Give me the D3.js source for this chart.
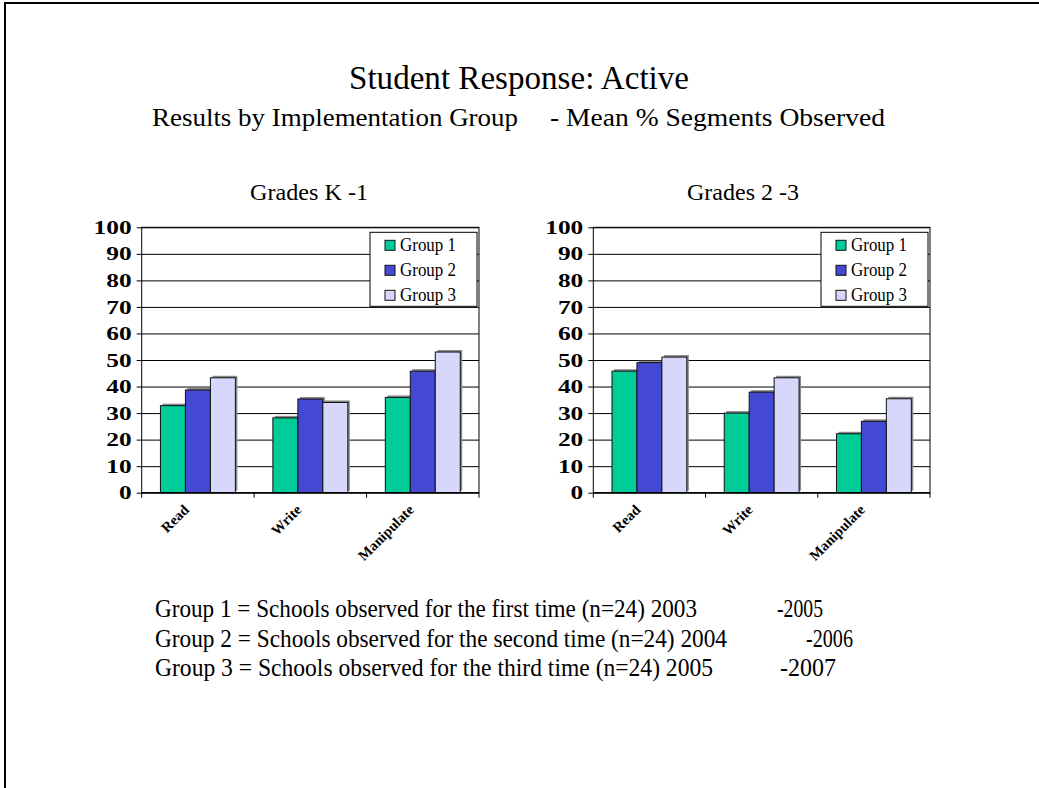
<!DOCTYPE html>
<html>
<head>
<meta charset="utf-8">
<script src="https://cdn.jsdelivr.net/npm/d3@7"></script>
<style>
  html, body { margin: 0; padding: 0; background: #fff; }
  svg { display: block; }
  text { font-family: "Liberation Serif", "Times New Roman", serif; fill: #000; }
</style>
</head>
<body>
<svg id="chart" width="1039" height="788"></svg>
<script>
// Categories, groups and values (mean % of segments observed)
const categories = ["Read", "Write", "Manipulate"];
const groupNames = ["Group 1", "Group 2", "Group 3"];
const groupColors = ["#00CC99", "#4349D3", "#D6D7FA"];

const gradesK1Group1 = [32.8, 28.2, 35.9];
const gradesK1Group2 = [38.7, 35.3, 45.8];
const gradesK1Group3 = [43.3, 34.0, 53.0];

const grades23Group1 = [45.8, 30.0, 22.2];
const grades23Group2 = [49.0, 37.9, 26.9];
const grades23Group3 = [51.1, 43.3, 35.4];

const yTicks = [0, 10, 20, 30, 40, 50, 60, 70, 80, 90, 100];

const titleText = "Student Response: Active";
const subtitleLeft = "Results by Implementation Group";
const subtitleRight = "- Mean % Segments Observed";
const panelTitles = ["Grades K -1", "Grades 2 -3"];
const noteMain = [
  "Group 1 = Schools observed for the first time (n=24) 2003",
  "Group 2 = Schools observed for the second time (n=24) 2004",
  "Group 3 = Schools observed for the third time  (n=24) 2005"
];
const noteEnd = ["-2005", "-2006", "-2007"];

const svg = d3.select("#chart");

// slide frame (top and left edges)
svg.append("path")
  .attr("d", "M5,788 L5,3 L1039,3")
  .attr("fill", "none")
  .attr("stroke", "#000")
  .attr("stroke-width", 2);

// headings
svg.append("text").attr("x", 349).attr("y", 89)
  .attr("font-size", 34).attr("textLength", 340).attr("lengthAdjust", "spacingAndGlyphs")
  .text(titleText);
svg.append("text").attr("x", 152).attr("y", 126)
  .attr("font-size", 26).attr("textLength", 366).attr("lengthAdjust", "spacingAndGlyphs")
  .text(subtitleLeft);
svg.append("text").attr("x", 550).attr("y", 126)
  .attr("font-size", 26).attr("textLength", 335).attr("lengthAdjust", "spacingAndGlyphs")
  .text(subtitleRight);

// one grouped bar panel
function drawPanel(cfg) {
  const { left, right, top, bottom, series, title, titleX, titleLen } = cfg;
  const g = svg.append("g");

  const y = d3.scaleLinear().domain([0, 100]).range([bottom, top]);
  const x0 = d3.scaleBand().domain(categories).range([left, right])
    .paddingInner(1 / 3).paddingOuter(1 / 6);
  const x1 = d3.scaleBand().domain(groupNames).range([0, x0.bandwidth()]);

  g.append("text").attr("x", titleX).attr("y", 200)
    .attr("font-size", 24).attr("textLength", titleLen).attr("lengthAdjust", "spacingAndGlyphs")
    .text(title);

  // gridlines + y axis
  const yAxis = d3.axisLeft(y).tickValues(yTicks).tickSize(-(right - left)).tickSizeOuter(0).tickPadding(6);
  const ya = g.append("g").attr("transform", `translate(${left},0)`).call(yAxis);
  ya.select(".domain").remove();
  ya.selectAll(".tick line").attr("stroke", "#000").attr("stroke-width", 1)
    .attr("x1", -5);
  ya.selectAll(".tick text")
    .attr("font-size", 18).attr("font-weight", "bold")
    .attr("x", -10)
    .attr("dy", "0.34em")
    .attr("textLength", d => String(d).length * 12.7)
    .attr("lengthAdjust", "spacingAndGlyphs");

  // plot area frame
  g.append("rect").attr("x", left).attr("y", top)
    .attr("width", right - left).attr("height", bottom - top)
    .attr("fill", "none").attr("stroke", "#000").attr("stroke-width", 1);

  // bars
  const rows = categories.map((c, i) => ({ cat: c, vals: series.map((s, k) => ({ group: groupNames[k], value: s[i], k })) }));
  const cg = g.selectAll(".cat").data(rows).join("g")
    .attr("class", "cat")
    .attr("transform", d => `translate(${x0(d.cat)},0)`);
  // soft shadow edge
  cg.selectAll(".shadow").data(d => d.vals).join("rect")
    .attr("class", "shadow")
    .attr("x", d => x1(d.group) + 2)
    .attr("y", d => y(d.value) - 2)
    .attr("width", x1.bandwidth())
    .attr("height", d => bottom - y(d.value))
    .attr("fill", "#8a8a8a");
  cg.selectAll(".bar").data(d => d.vals).join("rect")
    .attr("class", "bar")
    .attr("x", d => x1(d.group))
    .attr("y", d => y(d.value))
    .attr("width", x1.bandwidth())
    .attr("height", d => bottom - y(d.value))
    .attr("fill", d => groupColors[d.k])
    .attr("stroke", "#111").attr("stroke-width", 1);

  // x axis with boundary ticks
  g.append("line").attr("x1", left).attr("x2", right).attr("y1", bottom).attr("y2", bottom)
    .attr("stroke", "#000");
  const bounds = [left].concat(categories.map(c => x0(c) + x0.bandwidth() + x0.step() * x0.paddingInner() / 2));
  bounds[bounds.length - 1] = right;
  g.selectAll(".xtick").data(bounds).join("line")
    .attr("x1", d => d).attr("x2", d => d)
    .attr("y1", bottom).attr("y2", bottom + 5)
    .attr("stroke", "#000");

  g.selectAll(".xlabel").data(categories).join("text")
    .attr("transform", c => `translate(${x0(c) + x0.bandwidth() / 2 - 8},${bottom + 18}) rotate(-45)`)
    .attr("text-anchor", "end")
    .attr("font-size", 14.5).attr("font-weight", "bold")
    .text(c => c);

  // legend
  const lg = g.append("g").attr("transform", `translate(${right - 109},${top + 5})`);
  lg.append("rect").attr("width", 107).attr("height", 74)
    .attr("fill", "#fff").attr("stroke", "#000").attr("stroke-width", 1);
  const li = lg.selectAll(".li").data(groupNames).join("g")
    .attr("transform", (d, i) => `translate(15,${8 + i * 25})`);
  li.append("rect").attr("width", 10).attr("height", 10)
    .attr("fill", (d, i) => groupColors[i]).attr("stroke", "#111");
  li.append("text").attr("x", 15).attr("y", 10.5)
    .attr("font-size", 18).attr("textLength", 56).attr("lengthAdjust", "spacingAndGlyphs")
    .text(d => d);
}

drawPanel({
  left: 141.7, right: 479, top: 227.3, bottom: 492.7,
  series: [gradesK1Group1, gradesK1Group2, gradesK1Group3],
  title: panelTitles[0], titleX: 250, titleLen: 118
});
drawPanel({
  left: 593.3, right: 930, top: 227.3, bottom: 492.7,
  series: [grades23Group1, grades23Group2, grades23Group3],
  title: panelTitles[1], titleX: 687, titleLen: 112
});

// group key notes
const noteY = [617, 646.5, 676];
const noteMainLen = [542, 572, 558];
const noteEndX = [777, 806, 780];
const noteEndLen = [46, 47, 56];
noteMain.forEach((t, i) => {
  svg.append("text").attr("x", 155).attr("y", noteY[i])
    .attr("font-size", 25).attr("textLength", noteMainLen[i]).attr("lengthAdjust", "spacingAndGlyphs")
    .text(t);
  svg.append("text").attr("x", noteEndX[i]).attr("y", noteY[i])
    .attr("font-size", 25).attr("textLength", noteEndLen[i]).attr("lengthAdjust", "spacingAndGlyphs")
    .text(noteEnd[i]);
});
</script>
</body>
</html>
